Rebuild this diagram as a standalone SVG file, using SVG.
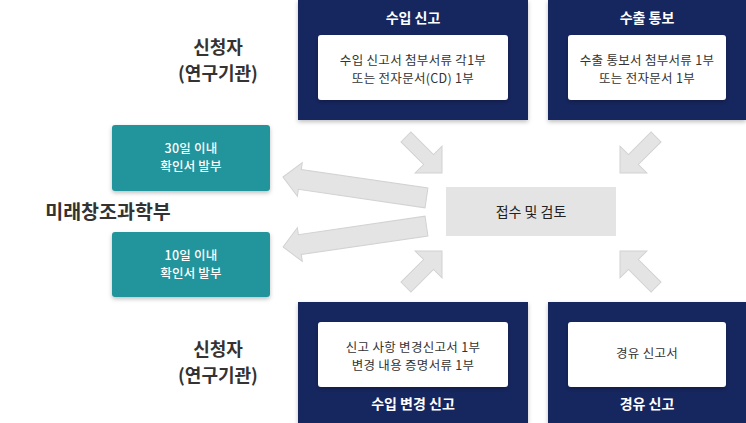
<svg xmlns="http://www.w3.org/2000/svg" width="746" height="423" viewBox="0 0 746 423">
<defs>
<filter id="sh" x="-10%" y="-10%" width="120%" height="130%">
<feDropShadow dx="0" dy="2" stdDeviation="2" flood-color="#000" flood-opacity="0.25"/>
</filter>
<polygon id="sa" points="0,0 -19,-19 -19,-7 -51,-7 -51,7 -19,7 -19,19"/>
<polygon id="la" points="0,0 17,-17 17,-10 145,-10 145,10 17,10 17,17"/>
</defs>
<style>
text{font-family:"Noto Sans CJK KR","Noto Sans",sans-serif;text-anchor:middle}
.navy{fill:#13265e}
.wb{fill:#fff}
.title{fill:#fff;font-size:14px;font-weight:bold}
.body{fill:#333;font-size:12.5px;letter-spacing:0.3px}
.teal{fill:#24949c}
.tt{fill:#fff;font-size:12.5px;font-weight:500;letter-spacing:0.2px}
.side{fill:#333;font-size:18px;font-weight:bold}
.arr{fill:#e4e4e4;stroke:#d2d2d2;stroke-width:1}
</style>
<rect width="746" height="423" fill="#fff"/>
<g id="connectors" class="arr">
<use href="#sa" transform="translate(442,173) rotate(45)"/>
<use href="#sa" transform="translate(620,173) rotate(135)"/>
<use href="#sa" transform="translate(442,251) rotate(-45)"/>
<use href="#sa" transform="translate(620,251) rotate(-135)"/>
<use href="#la" transform="translate(283,177) rotate(8.3)"/>
<use href="#la" transform="translate(283,247) rotate(-8.3)"/>
</g>
<g id="import-report">
<rect class="navy" x="298" y="0" width="230" height="120" filter="url(#sh)"/>
<text class="title" x="413" y="23">수입 신고</text>
<rect class="wb" x="318" y="35" width="190" height="65" rx="3" filter="url(#sh)"/>
<text class="body" x="413" y="64.5">수입 신고서 첨부서류 각1부</text>
<text class="body" x="413" y="83">또는 전자문서(CD) 1부</text>
</g>
<g id="export-notice">
<rect class="navy" x="548" y="0" width="198" height="120" filter="url(#sh)"/>
<text class="title" x="647" y="23">수출 통보</text>
<rect class="wb" x="568" y="35" width="158" height="65" rx="3" filter="url(#sh)"/>
<text class="body" x="647" y="64.5">수출 통보서 첨부서류 1부</text>
<text class="body" x="647" y="83">또는 전자문서 1부</text>
</g>
<g id="import-change">
<rect class="navy" x="298" y="302" width="230" height="121" filter="url(#sh)"/>
<rect class="wb" x="318" y="322" width="190" height="65" rx="3" filter="url(#sh)"/>
<text class="body" x="413" y="351.5">신고 사항 변경신고서 1부</text>
<text class="body" x="413" y="370">변경 내용 증명서류 1부</text>
<text class="title" x="413" y="409">수입 변경 신고</text>
</g>
<g id="transit">
<rect class="navy" x="548" y="302" width="198" height="121" filter="url(#sh)"/>
<rect class="wb" x="568" y="322" width="158" height="65" rx="3" filter="url(#sh)"/>
<text class="body" x="647" y="358">경유 신고서</text>
<text class="title" x="647" y="409">경유 신고</text>
</g>
<g id="review">
<rect x="446" y="187" width="170" height="49" fill="#e4e4e4"/>
<text x="531" y="217" style="fill:#222;font-size:14px">접수 및 검토</text>
</g>
<g id="confirm30">
<rect class="teal" x="112" y="125" width="158" height="66" rx="3" filter="url(#sh)"/>
<text class="tt" x="191" y="152.5">30일 이내</text>
<text class="tt" x="191" y="171">확인서 발부</text>
</g>
<g id="confirm10">
<rect class="teal" x="112" y="232" width="158" height="65" rx="3" filter="url(#sh)"/>
<text class="tt" x="191" y="259.5">10일 이내</text>
<text class="tt" x="191" y="278">확인서 발부</text>
</g>
<g id="applicant-top">
<text class="side" x="218" y="53.5">신청자</text>
<text class="side" x="218" y="80">(연구기관)</text>
</g>
<g id="ministry">
<text class="side" x="108" y="219" style="font-size:19.5px">미래창조과학부</text>
</g>
<g id="applicant-bottom">
<text class="side" x="218" y="355.5">신청자</text>
<text class="side" x="218" y="382">(연구기관)</text>
</g>
</svg>
